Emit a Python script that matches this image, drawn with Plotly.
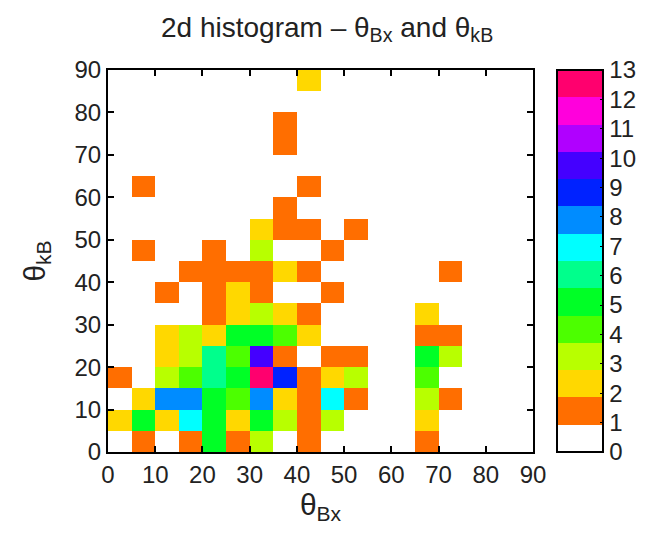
import plotly.graph_objects as go

# bin edges (degrees)
x_edges = list(range(0, 95, 5))
y_edges = list(range(0, 95, 5))

# counts: rows = theta_kB bins (0-5 ... 85-90), cols = theta_Bx bins (0-5 ... 85-90)
counts = [
    [0, 1, 0, 1, 5, 1, 3, 0, 1, 0, 0, 0, 0, 1, 0, 0, 0, 0],
    [2, 5, 2, 7, 5, 2, 5, 3, 1, 3, 0, 0, 0, 2, 0, 0, 0, 0],
    [0, 2, 8, 8, 5, 4, 8, 2, 1, 7, 1, 0, 0, 3, 1, 0, 0, 0],
    [1, 0, 3, 4, 6, 5, 13, 9, 1, 2, 3, 0, 0, 4, 0, 0, 0, 0],
    [0, 0, 2, 3, 6, 4, 10, 1, 0, 1, 1, 0, 0, 5, 3, 0, 0, 0],
    [0, 0, 2, 3, 2, 5, 5, 4, 2, 0, 0, 0, 0, 1, 1, 0, 0, 0],
    [0, 0, 0, 0, 1, 2, 3, 2, 1, 0, 0, 0, 0, 2, 0, 0, 0, 0],
    [0, 0, 1, 0, 1, 2, 1, 0, 0, 1, 0, 0, 0, 0, 0, 0, 0, 0],
    [0, 0, 0, 1, 1, 1, 1, 2, 1, 0, 0, 0, 0, 0, 1, 0, 0, 0],
    [0, 1, 0, 0, 1, 0, 3, 0, 0, 1, 0, 0, 0, 0, 0, 0, 0, 0],
    [0, 0, 0, 0, 0, 0, 2, 1, 1, 0, 1, 0, 0, 0, 0, 0, 0, 0],
    [0, 0, 0, 0, 0, 0, 0, 1, 0, 0, 0, 0, 0, 0, 0, 0, 0, 0],
    [0, 1, 0, 0, 0, 0, 0, 0, 1, 0, 0, 0, 0, 0, 0, 0, 0, 0],
    [0, 0, 0, 0, 0, 0, 0, 0, 0, 0, 0, 0, 0, 0, 0, 0, 0, 0],
    [0, 0, 0, 0, 0, 0, 0, 1, 0, 0, 0, 0, 0, 0, 0, 0, 0, 0],
    [0, 0, 0, 0, 0, 0, 0, 1, 0, 0, 0, 0, 0, 0, 0, 0, 0, 0],
    [0, 0, 0, 0, 0, 0, 0, 0, 0, 0, 0, 0, 0, 0, 0, 0, 0, 0],
    [0, 0, 0, 0, 0, 0, 0, 0, 2, 0, 0, 0, 0, 0, 0, 0, 0, 0],
]

level_colors = [
    "#FFFFFF", "#FF6E00", "#FFD800", "#B8FF00", "#4CFF00", "#00FF26", "#00FF8C",
    "#00FFFF", "#008CFF", "#0022FF", "#4400FF", "#B000FF", "#FF00DC", "#FF006E",
]
n = len(level_colors)
colorscale = []
for i, c in enumerate(level_colors):
    colorscale.append([i / n, c])
    colorscale.append([(i + 1) / n, c])

tick_vals = list(range(0, 14))
axis_ticks = list(range(0, 100, 10))

FONT = "Liberation Sans, Arial, Helvetica, sans-serif"
TXT = "#222222"

fig = go.Figure(
    go.Heatmap(
        z=counts,
        x=x_edges,
        y=y_edges,
        zmin=0,
        zmax=13,
        colorscale=colorscale,
        xgap=0,
        ygap=0,
        colorbar=dict(
            x=1.0565,
            xanchor="left",
            y=0,
            yanchor="bottom",
            len=1,
            lenmode="fraction",
            thickness=46,
            thicknessmode="pixels",
            outlinewidth=2,
            outlinecolor="black",
            tickvals=tick_vals,
            ticktext=[str(v) for v in tick_vals],
            ticks="inside",
            ticklen=4,
            tickcolor="black",
            tickfont=dict(size=24, color=TXT, family=FONT),
            xpad=0,
            ypad=0,
        ),
    )
)

fig.update_layout(
    width=658,
    height=537,
    margin=dict(l=100, r=133, t=62, b=93),
    paper_bgcolor="white",
    plot_bgcolor="white",
    font=dict(family=FONT, color=TXT, size=24),
    title=dict(
        text="2d histogram – θ<sub>Bx</sub> and θ<sub>kB</sub>",
        x=0.485,
        xanchor="center",
        y=0.965,
        yanchor="middle",
        font=dict(size=28, family=FONT, color=TXT),
    ),
    xaxis=dict(
        range=[0, 90],
        tickvals=axis_ticks,
        ticks="inside",
        ticklen=6,
        tickwidth=1.5,
        tickcolor="black",
        showline=True,
        linecolor="black",
        linewidth=2,
        mirror="ticks",
        showgrid=False,
        zeroline=False,
        tickfont=dict(size=24),
        title=dict(text="θ<sub>Bx</sub>", font=dict(size=30), standoff=4),
    ),
    yaxis=dict(
        range=[0, 90],
        tickvals=axis_ticks,
        ticks="inside",
        ticklen=6,
        tickwidth=1.5,
        tickcolor="black",
        showline=True,
        linecolor="black",
        linewidth=2,
        mirror="ticks",
        showgrid=False,
        zeroline=False,
        tickfont=dict(size=24),
        title=dict(text="θ<sub>kB</sub>", font=dict(size=30), standoff=20),
    ),
)

fig.write_html("out.html")
